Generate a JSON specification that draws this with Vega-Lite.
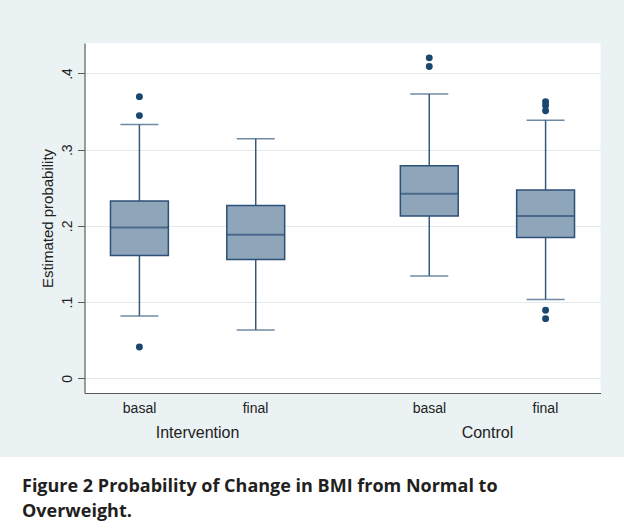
{
  "$schema": "https://vega.github.io/schema/vega-lite/v6.json",
  "background": "#eaf2f3",
  "padding": {"left": 0, "top": 43, "right": 0, "bottom": 0},
  "autosize": {"type": "pad"},
  "bounds": "flush",
  "center": true,
  "spacing": 64,
  "datasets": {
    "boxes": [
      {"group": "Intervention", "time": "basal", "lower": 0.0819, "q1": 0.1611, "median": 0.1979, "q3": 0.2326, "upper": 0.3329},
      {"group": "Intervention", "time": "final", "lower": 0.0635, "q1": 0.1559, "median": 0.1883, "q3": 0.2268, "upper": 0.3145},
      {"group": "Control", "time": "basal", "lower": 0.1344, "q1": 0.2129, "median": 0.2422, "q3": 0.2790, "upper": 0.3732},
      {"group": "Control", "time": "final", "lower": 0.1033, "q1": 0.1848, "median": 0.2129, "q3": 0.2470, "upper": 0.3385}
    ],
    "outliers": [
      {"group": "Intervention", "time": "basal", "value": 0.3696},
      {"group": "Intervention", "time": "basal", "value": 0.3447},
      {"group": "Intervention", "time": "basal", "value": 0.0411},
      {"group": "Control", "time": "basal", "value": 0.4205},
      {"group": "Control", "time": "basal", "value": 0.4091},
      {"group": "Control", "time": "final", "value": 0.3630},
      {"group": "Control", "time": "final", "value": 0.3580},
      {"group": "Control", "time": "final", "value": 0.3510},
      {"group": "Control", "time": "final", "value": 0.0894},
      {"group": "Control", "time": "final", "value": 0.0783}
    ]
  },
  "vconcat": [
    {
      "width": 516,
      "height": 350,
      "view": {"fill": "white", "stroke": null},
      "layer": [
        {
          "data": {"name": "boxes"},
          "mark": {"type": "rule", "color": "#34587d", "strokeWidth": 1.5},
          "encoding": {
            "x": {"field": "group", "type": "nominal", "sort": ["Intervention", "Control"], "scale": {"type": "band", "paddingInner": 0.2198, "paddingOuter": 0},
                  "axis": {"orient": "bottom", "labelOffset": -58, "labelExpr": "'basal'", "title": null, "ticks": false, "domain": true, "domainColor": "#5a5a5a", "domainWidth": 1.2, "labelPadding": 8, "labelFontSize": 14, "labelAngle": 0, "grid": false}},
            "xOffset": {"field": "time", "type": "nominal", "sort": ["basal", "final"], "scale": {"type": "band", "paddingInner": 0.5024, "paddingOuter": 0.2233}},
            "y": {"field": "lower", "type": "quantitative", "scale": {"domain": [-0.0193, 0.44], "nice": false, "zero": false},
                  "axis": {"title": "Estimated probability", "values": [0, 0.1, 0.2, 0.3, 0.4], "labelExpr": "datum.value == 0 ? '0' : replace(format(datum.value, '.1f'), '0.', '.')"}},
            "y2": {"field": "upper"}
          }
        },
        {
          "data": {"name": "boxes"},
          "mark": {"type": "bar", "fill": "#8fa5b9", "stroke": "#2c5077", "strokeWidth": 1.5},
          "encoding": {
            "x": {"field": "group", "type": "nominal", "sort": ["Intervention", "Control"], "scale": {"type": "band", "paddingInner": 0.2198, "paddingOuter": 0},
                  "axis": {"orient": "bottom", "title": null, "ticks": false, "domain": false, "labelPadding": 31, "labelFontSize": 16, "labelAngle": 0, "grid": false}},
            "xOffset": {"field": "time", "type": "nominal", "sort": ["basal", "final"], "scale": {"type": "band", "paddingInner": 0.5024, "paddingOuter": 0.2233}},
            "y": {"field": "q1", "type": "quantitative", "scale": {"domain": [-0.0193, 0.44], "nice": false, "zero": false},
                  "axis": {"title": "Estimated probability", "values": [0, 0.1, 0.2, 0.3, 0.4], "labelExpr": "datum.value == 0 ? '0' : replace(format(datum.value, '.1f'), '0.', '.')"}},
            "y2": {"field": "q3"}
          }
        },
        {
          "data": {"name": "boxes"},
          "mark": {"type": "tick", "orient": "horizontal", "size": 58, "thickness": 2, "color": "#2c5077"},
          "encoding": {
            "x": {"field": "group", "type": "nominal", "sort": ["Intervention", "Control"], "scale": {"type": "band", "paddingInner": 0.2198, "paddingOuter": 0},
                  "axis": {"orient": "bottom", "labelOffset": 58, "labelExpr": "'final'", "title": null, "ticks": false, "domain": false, "labelPadding": 8, "labelFontSize": 14, "labelAngle": 0, "grid": false}},
            "xOffset": {"field": "time", "type": "nominal", "sort": ["basal", "final"], "scale": {"type": "band", "paddingInner": 0.5024, "paddingOuter": 0.2233}},
            "y": {"field": "median", "type": "quantitative", "scale": {"domain": [-0.0193, 0.44], "nice": false, "zero": false},
                  "axis": {"title": "Estimated probability", "values": [0, 0.1, 0.2, 0.3, 0.4], "labelExpr": "datum.value == 0 ? '0' : replace(format(datum.value, '.1f'), '0.', '.')"}}
          }
        },
        {
          "data": {"name": "boxes"},
          "mark": {"type": "tick", "orient": "horizontal", "size": 38, "thickness": 1.5, "color": "#34587d"},
          "encoding": {
            "x": {"field": "group", "type": "nominal", "sort": ["Intervention", "Control"], "scale": {"type": "band", "paddingInner": 0.2198, "paddingOuter": 0}, "axis": null},
            "xOffset": {"field": "time", "type": "nominal", "sort": ["basal", "final"], "scale": {"type": "band", "paddingInner": 0.5024, "paddingOuter": 0.2233}},
            "y": {"field": "lower", "type": "quantitative", "scale": {"domain": [-0.0193, 0.44], "nice": false, "zero": false},
                  "axis": {"title": "Estimated probability", "values": [0, 0.1, 0.2, 0.3, 0.4], "labelExpr": "datum.value == 0 ? '0' : replace(format(datum.value, '.1f'), '0.', '.')"}}
          }
        },
        {
          "data": {"name": "boxes"},
          "mark": {"type": "tick", "orient": "horizontal", "size": 38, "thickness": 1.5, "color": "#34587d"},
          "encoding": {
            "x": {"field": "group", "type": "nominal", "sort": ["Intervention", "Control"], "scale": {"type": "band", "paddingInner": 0.2198, "paddingOuter": 0}, "axis": null},
            "xOffset": {"field": "time", "type": "nominal", "sort": ["basal", "final"], "scale": {"type": "band", "paddingInner": 0.5024, "paddingOuter": 0.2233}},
            "y": {"field": "upper", "type": "quantitative", "scale": {"domain": [-0.0193, 0.44], "nice": false, "zero": false},
                  "axis": {"title": "Estimated probability", "values": [0, 0.1, 0.2, 0.3, 0.4], "labelExpr": "datum.value == 0 ? '0' : replace(format(datum.value, '.1f'), '0.', '.')"}}
          }
        },
        {
          "data": {"name": "outliers"},
          "mark": {"type": "circle", "size": 48, "color": "#1a476f", "opacity": 1},
          "encoding": {
            "x": {"field": "group", "type": "nominal", "sort": ["Intervention", "Control"], "scale": {"type": "band", "paddingInner": 0.2198, "paddingOuter": 0}, "axis": null},
            "xOffset": {"field": "time", "type": "nominal", "sort": ["basal", "final"], "scale": {"type": "band", "paddingInner": 0.5024, "paddingOuter": 0.2233}},
            "y": {"field": "value", "type": "quantitative", "scale": {"domain": [-0.0193, 0.44], "nice": false, "zero": false},
                  "axis": {"title": "Estimated probability", "values": [0, 0.1, 0.2, 0.3, 0.4], "labelExpr": "datum.value == 0 ? '0' : replace(format(datum.value, '.1f'), '0.', '.')"}}
          }
        }
      ],
      "resolve": {"axis": {"x": "independent"}}
    },
    {
      "width": 685,
      "height": 80,
      "view": {"fill": "white", "stroke": null},
      "data": {"values": []},
      "mark": "text",
      "encoding": {},
      "title": {
        "text": ["Figure 2 Probability of Change in BMI from Normal to", "Overweight."],
        "orient": "top",
        "anchor": "start",
        "frame": "group",
        "baseline": "top",
        "offset": -64,
        "dx": 22,
        "font": "Open Sans",
        "fontSize": 18,
        "fontWeight": "bold",
        "color": "#231f20",
        "lineHeight": 25.5
      }
    }
  ],
  "config": {
    "font": "Liberation Sans",
    "axis": {"labelColor": "#222222", "labelFont": "Liberation Sans", "titleFont": "Liberation Sans", "titleColor": "#222222", "titleFontWeight": "normal"},
    "axisY": {"labelAngle": -90, "labelAlign": "center", "labelBaseline": "bottom", "labelFontSize": 14, "labelPadding": 3, "tickSize": 7, "tickColor": "#5a5a5a", "domainColor": "#5a5a5a", "domainWidth": 1.2, "grid": true, "gridColor": "#e3eaec", "titleFontSize": 15, "titlePadding": 5}
  }
}
